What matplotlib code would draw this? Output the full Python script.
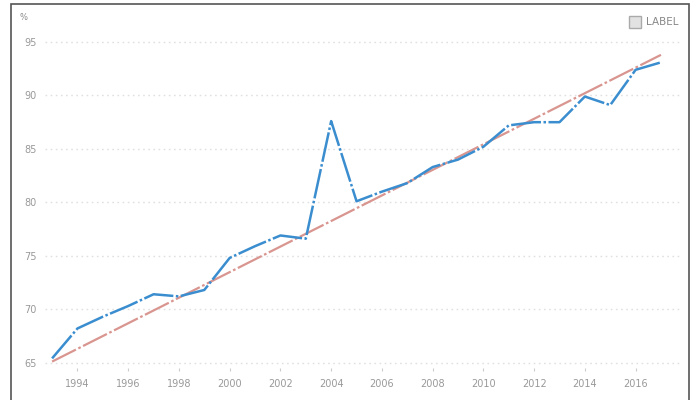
import matplotlib.pyplot as plt
from matplotlib.lines import Line2D
from matplotlib.patches import Rectangle

years = list(range(1993, 2018))
values = [65.4, 68.2, 69.3, 70.3, 71.4, 71.2, 71.8, 74.8, 75.9, 76.9, 76.6,
          87.6, 80.1, 81.0, 81.8, 83.3, 84.0, 85.2, 87.2, 87.5, 87.5, 89.9,
          89.1, 92.4, 93.1]
trend_years = [1993, 2017]
trend_values = [65.1, 93.8]
y_ticks = [65, 70, 75, 80, 85, 90, 95]
x_ticks = list(range(1994, 2017, 2))

fig = plt.figure(figsize=(6.96, 4.0), dpi=100)
ax = fig.add_axes([45 / 696, 1 - 368 / 400, 635 / 696, 342 / 400])

# outer frame of the panel
fig.patches.append(Rectangle((11 / 696, -0.05), 678 / 696, 1.05 - 3.5 / 400,
                             transform=fig.transFigure, fill=False,
                             edgecolor='#555555', linewidth=1.2))

ax.plot(trend_years, trend_values, color='#d9958f', linewidth=1.6,
        dashes=(12, 1.2, 1.2, 1.2), zorder=2)
ax.plot(years, values, color='#3a8dce', linewidth=1.8,
        dashes=(12, 1.0, 1.0, 1.0), zorder=3)

ax.set_xlim(1992.72, 2017.75)
ax.set_ylim(64.5, 96.5)
ax.set_yticks(y_ticks)
ax.set_xticks(x_ticks)
ax.grid(axis='y', linestyle=(0, (1.2, 2.5)), color='#e0e0e0', linewidth=1.0)
ax.grid(axis='x', visible=False)
for s in ax.spines.values():
    s.set_visible(False)
ax.tick_params(axis='y', length=0, labelsize=7, labelcolor='#999999', pad=6)
ax.tick_params(axis='x', length=2, color='#cccccc', direction='out',
               labelsize=7, labelcolor='#999999', pad=6)
ax.set_axisbelow(True)

fig.text(24 / 696, 1 - 17 / 400, '%', fontsize=6, color='#888888',
         ha='center', va='center')

handle = Line2D([], [], linestyle='none', marker='s', markersize=8,
                markerfacecolor='#e2e2e2', markeredgecolor='#aaaaaa')
ax.legend([handle], ['LABEL'], loc='upper right', frameon=False,
          bbox_to_anchor=(1.012, 1.0 + 18 / 342), fontsize=7.5,
          labelcolor='#888888', handletextpad=0.5, handlelength=1.0)

fig.savefig('out.png', dpi=100)
